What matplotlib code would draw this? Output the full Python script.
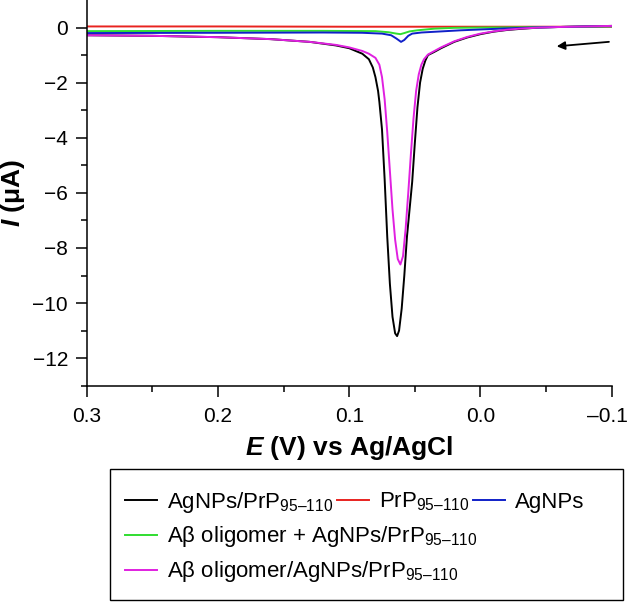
import numpy as np
import matplotlib
matplotlib.use('Agg')
import matplotlib.pyplot as plt
from matplotlib.patches import Rectangle
from matplotlib.lines import Line2D
from matplotlib.ticker import FuncFormatter
from matplotlib.transforms import ScaledTranslation

plt.rcParams['font.family'] = ['Liberation Sans', 'DejaVu Sans']
plt.rcParams['mathtext.fontset'] = 'custom'
plt.rcParams['mathtext.rm'] = 'Liberation Sans'
plt.rcParams['mathtext.it'] = 'Liberation Sans:italic'
plt.rcParams['mathtext.bf'] = 'Liberation Sans:bold'
plt.rcParams['mathtext.bfit'] = 'Liberation Sans:italic:bold'

# AgNPs/PrP95-110 (black)
e_black = [0.30, 0.25, 0.20, 0.16, 0.13, 0.11, 0.10, 0.09, 0.085, 0.082, 0.080, 0.078,
           0.077, 0.075, 0.073, 0.071, 0.069, 0.067, 0.065, 0.0635, 0.062, 0.060, 0.058,
           0.056, 0.054, 0.052, 0.050, 0.048, 0.046, 0.044, 0.042, 0.040, 0.035, 0.030,
           0.020, 0.010, 0.000, -0.010, -0.020, -0.030, -0.045, -0.060, -0.080, -0.100]
i_black = [-0.28, -0.30, -0.35, -0.42, -0.52, -0.65, -0.75, -0.95, -1.15, -1.45, -1.8, -2.3,
           -2.7, -3.7, -5.5, -7.6, -9.3, -10.5, -11.1, -11.2, -11.0, -10.2, -9.0,
           -7.6, -6.6, -5.6, -4.2, -2.9, -2.0, -1.5, -1.2, -1.0, -0.88, -0.75,
           -0.52, -0.36, -0.24, -0.15, -0.09, -0.05, 0.0, 0.02, 0.04, 0.06]

# PrP95-110 (red)
e_red = [0.30, 0.20, 0.10, 0.00, -0.10]
i_red = [0.04, 0.04, 0.03, 0.03, 0.03]

# AgNPs (blue)
e_blue = [0.30, 0.20, 0.12, 0.09, 0.075, 0.068, 0.064, 0.0605, 0.058, 0.055, 0.052,
          0.045, 0.030, 0.015, 0.000, -0.020, -0.040, -0.060, -0.080, -0.100]
i_blue = [-0.20, -0.19, -0.18, -0.19, -0.22, -0.28, -0.40, -0.52, -0.45, -0.30, -0.22,
          -0.18, -0.14, -0.10, -0.07, -0.03, 0.0, 0.02, 0.04, 0.05]

# Abeta oligomer + AgNPs/PrP95-110 (green)
e_green = [0.30, 0.20, 0.12, 0.08, 0.07, 0.064, 0.061, 0.058, 0.054, 0.048, 0.035,
           0.020, 0.000, -0.030, -0.060, -0.100]
i_green = [-0.13, -0.12, -0.12, -0.13, -0.17, -0.22, -0.24, -0.20, -0.14, -0.10, -0.04,
           -0.01, 0.0, 0.01, 0.02, 0.04]

# Abeta oligomer/AgNPs/PrP95-110 (magenta)
e_mag = [0.30, 0.25, 0.20, 0.16, 0.13, 0.11, 0.10, 0.09, 0.085, 0.080, 0.077, 0.075,
         0.073, 0.071, 0.069, 0.067, 0.065, 0.063, 0.061, 0.059, 0.057, 0.055, 0.053,
         0.051, 0.049, 0.047, 0.045, 0.043, 0.040, 0.035, 0.030, 0.020, 0.010, 0.000,
         -0.010, -0.020, -0.030, -0.045, -0.060, -0.080, -0.100]
i_mag = [-0.28, -0.30, -0.35, -0.42, -0.52, -0.63, -0.72, -0.85, -0.95, -1.1, -1.35, -1.8,
         -2.6, -3.8, -5.2, -6.6, -7.7, -8.4, -8.6, -8.3, -7.3, -6.0, -4.6,
         -3.3, -2.3, -1.7, -1.35, -1.15, -0.98, -0.85, -0.72, -0.50, -0.34, -0.22,
         -0.14, -0.08, -0.04, 0.0, 0.02, 0.04, 0.06]

sub = '$_{\\mathregular{95\u2013110}}$'
labels = ['AgNPs/PrP' + sub, 'PrP' + sub, 'AgNPs',
          'A\u03b2 oligomer + AgNPs/PrP' + sub, 'A\u03b2 oligomer/AgNPs/PrP' + sub]
colors = ['black', '#e8231f', '#1020c8', '#30dd30', '#e020e0']

fig = plt.figure(figsize=(6.29, 6.02), dpi=100)
ax = fig.add_axes([0.1378, 0.3593, 0.8347, 0.6407])

lw = 1.4
ax.plot(e_black, i_black, c=colors[0], lw=lw)
ax.plot(e_red, i_red, c=colors[1], lw=lw)
ax.plot(e_green, i_green, c=colors[3], lw=lw)
ax.plot(e_blue, i_blue, c=colors[2], lw=lw)
ax.plot(e_mag, i_mag, c=colors[4], lw=lw)

# scan direction arrow
ax.annotate('', xy=(-0.056, -0.69), xytext=(-0.1, -0.51),
            arrowprops=dict(arrowstyle='-|>', color='black', lw=1.3, mutation_scale=12))

ax.set_xlim(0.3, -0.1)
ax.set_ylim(-13, 1)
ax.set_xticks([0.3, 0.2, 0.1, 0.0, -0.1])
ax.set_xticks([0.25, 0.15, 0.05, -0.05], minor=True)
ax.set_yticks([0, -2, -4, -6, -8, -10, -12])
ax.set_yticks([-1, -3, -5, -7, -9, -11, -13], minor=True)
ax.xaxis.set_major_formatter(FuncFormatter(
    lambda v, p: ('%.1f' % v).replace('-', '\u2013') if abs(v) > 1e-9 else '0.0'))
ax.spines['top'].set_visible(False)
ax.spines['right'].set_visible(False)
for s in ['left', 'bottom']:
    ax.spines[s].set_linewidth(1.1)
ax.tick_params(which='major', direction='out', length=8, width=1.1, labelsize=15)
ax.tick_params(which='minor', direction='out', length=4.5, width=1.1)
ax.tick_params(axis='x', which='major', pad=7)
ax.tick_params(axis='y', which='major', pad=5.5)

ax.set_xlabel(r'$\mathbfit{E}$ (V) vs Ag/AgCl', fontsize=19, fontweight='bold', labelpad=6)
ax.set_ylabel(r'$\mathbfit{I}$ ($\mathbf{\mu}$A)', fontsize=19, fontweight='bold', labelpad=4)

handles = [Line2D([], [], color=c, lw=lw) for c in colors]
kw = dict(frameon=False, fontsize=16, handlelength=1.45, handletextpad=0.45,
          columnspacing=0.15, borderpad=0, borderaxespad=0, loc='center left')
fig.legend(handles[:3], labels[:3], ncol=3, bbox_to_anchor=(0.199, 0.166), **kw)
fig.legend(handles[3:4], labels[3:4], bbox_to_anchor=(0.199, 0.108), **kw)
fig.legend(handles[4:5], labels[4:5], bbox_to_anchor=(0.199, 0.050), **kw)
fig.add_artist(Rectangle((0.1742, 0.0033), 0.8163, 0.2176, transform=fig.transFigure,
                         fill=False, lw=1, ec='black'))

# keep the last x tick label inside the figure
fig.canvas.draw()
last = ax.xaxis.get_major_ticks()[-1].label1
last.set_transform(last.get_transform() + ScaledTranslation(-3 / 72, 0, fig.dpi_scale_trans))

fig.savefig('out.png', dpi=100)
